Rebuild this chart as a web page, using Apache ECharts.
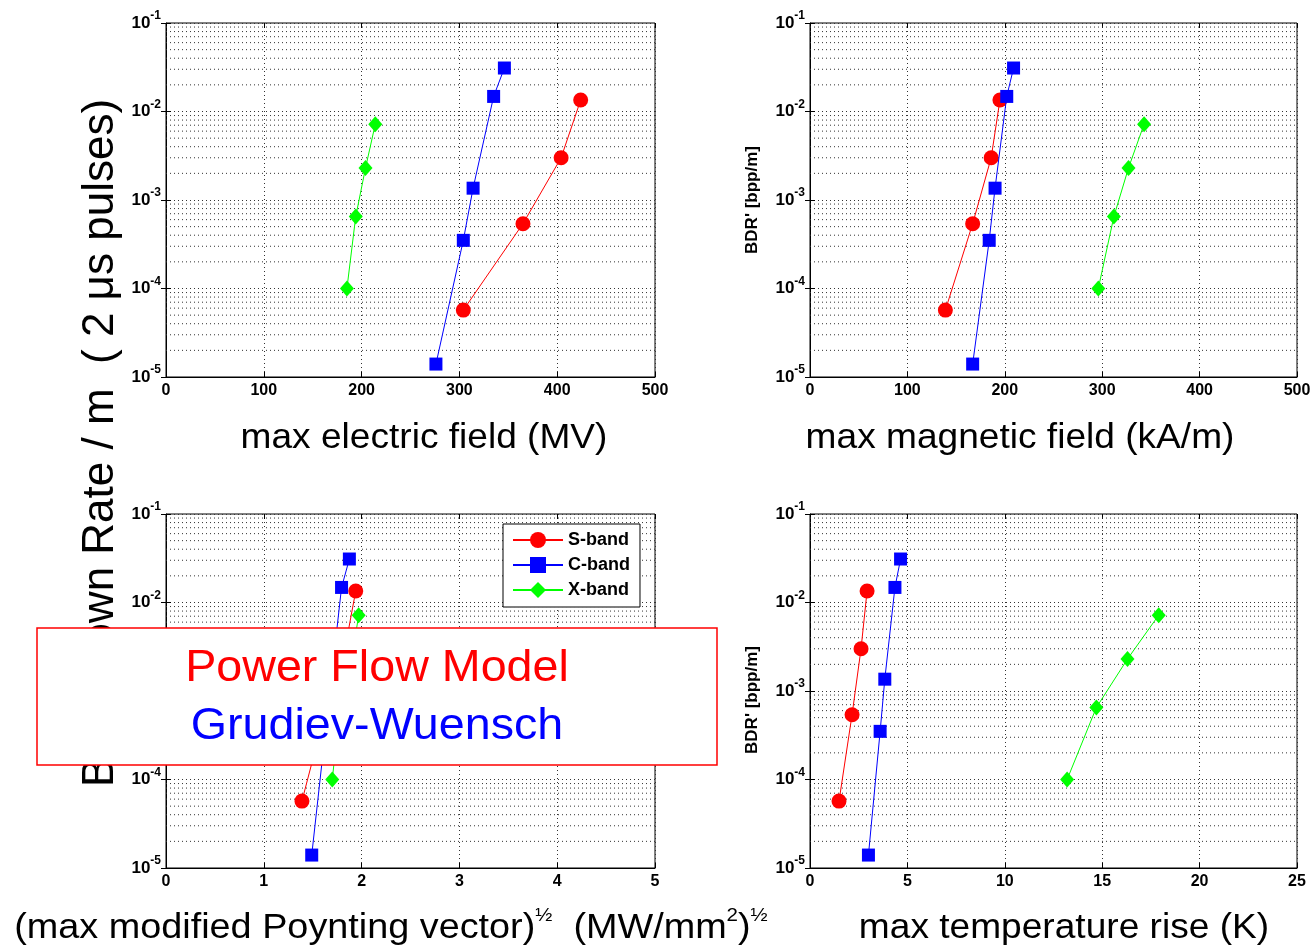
<!DOCTYPE html>
<html>
<head>
<meta charset="utf-8">
<script src="https://cdn.jsdelivr.net/npm/echarts@6/dist/echarts.min.js"></script>
<style>
  html, body { margin: 0; padding: 0; background: #fff; }
  #main { width: 1314px; height: 950px; }
</style>
</head>
<body>
<div id="main"></div>
<script>
// breakdown rate per metre, same for every panel
var sBandBdr = [5.7e-5, 5.4e-4, 3.0e-3, 1.35e-2]
var cBandBdr = [1.4e-5, 3.5e-4, 1.36e-3, 1.48e-2, 3.1e-2]
var xBandBdr = [1.0e-4, 6.5e-4, 2.3e-3, 7.2e-3]

// max electric field (MV)
var sBandE = [304, 365, 404, 424]
var cBandE = [276, 304, 314, 335, 346]
var xBandE = [185, 194, 204, 214]

// max magnetic field (kA/m)
var sBandH = [139, 167, 186, 195]
var cBandH = [167, 184, 190, 202, 209]
var xBandH = [296, 312, 327, 343]

// sqrt of max modified Poynting vector
var sBandSc = [1.39, 1.62, 1.83, 1.94]
var cBandSc = [1.49, 1.63, 1.69, 1.795, 1.875]
var xBandSc = [1.70, 1.78, 1.90, 1.97]

// max temperature rise (K)
var sBandT = [1.49, 2.16, 2.62, 2.93]
var cBandT = [3.0, 3.6, 3.84, 4.36, 4.65]
var xBandT = [13.2, 14.7, 16.3, 17.9]

var xMaxes = [500, 500, 5, 25]
var xSteps = [100, 100, 1, 5]
var decades = [1e-5, 1e-4, 1e-3, 1e-2]
var minorSteps = [2, 3, 4, 5, 6, 7, 8, 9]

var chart = echarts.init(document.getElementById('main'))

var grids = [
  { left: 166, right: 659, top: 23, height: 354 },
  { left: 810, right: 17, top: 23, height: 354 },
  { left: 166, right: 659, top: 514, height: 354 },
  { left: 810, right: 17, top: 514, height: 354 }
]

var dotted = { color: '#333', width: 1, type: [1, 3] }
var font = 'Liberation Sans'

function pairs (xs, ys) {
  return xs.map(function (x, i) { return [x, ys[i]] })
}

var xAxes = []
var yAxes = []
grids.forEach(function (g, i) {
  xAxes.push({
    type: 'value', gridIndex: i, min: 0, max: xMaxes[i], interval: xSteps[i],
    axisLine: { lineStyle: { color: '#000' } },
    axisTick: { inside: true, length: 5, lineStyle: { color: '#000' } },
    axisLabel: { color: '#000', fontWeight: 'bold', fontSize: 16, fontFamily: font, margin: 6 },
    splitLine: { show: true, lineStyle: dotted }
  })
  yAxes.push({
    type: 'log', logBase: 10, gridIndex: i, min: 1e-5, max: 1e-1,
    axisLine: { lineStyle: { color: '#000' } },
    axisTick: { inside: true, length: 5, lineStyle: { color: '#000' } },
    axisLabel: {
      color: '#000', margin: 5, fontFamily: font,
      formatter: function (v) {
        var e = Math.round(Math.log10(v))
        return '{b|10}{s|' + e + '}'
      },
      rich: {
        b: { fontSize: 17, fontWeight: 'bold', lineHeight: 26, fontFamily: font },
        s: { fontSize: 12, fontWeight: 'bold', lineHeight: 11, verticalAlign: 'top', fontFamily: font }
      }
    },
    splitLine: { show: true, lineStyle: dotted }
  })
})
// mirror axes on top / right for the inside ticks of the box
grids.forEach(function (g, i) {
  xAxes.push({
    type: 'value', gridIndex: i, position: 'top', min: 0, max: xMaxes[i], interval: xSteps[i],
    axisLine: { show: false }, axisLabel: { show: false }, splitLine: { show: false },
    axisTick: { inside: true, length: 5, lineStyle: { color: '#000' } }
  })
  yAxes.push({
    type: 'log', logBase: 10, gridIndex: i, position: 'right', min: 1e-5, max: 1e-1,
    axisLine: { show: false }, axisLabel: { show: false }, splitLine: { show: false },
    axisTick: { inside: true, length: 5, lineStyle: { color: '#000' } }
  })
})

var panels = [
  [sBandE, cBandE, xBandE],
  [sBandH, cBandH, xBandH],
  [sBandSc, cBandSc, xBandSc],
  [sBandT, cBandT, xBandT]
]

var series = []

// dotted minor grid lines at 2..9 x 10^k
grids.forEach(function (g, i) {
  decades.forEach(function (d) {
    minorSteps.forEach(function (m) {
      var v = d * m
      series.push({
        type: 'line', xAxisIndex: i, yAxisIndex: i, silent: true,
        data: [[0, v], [xMaxes[i], v]], symbol: 'none',
        lineStyle: dotted, z: 1
      })
    })
  })
})

panels.forEach(function (p, i) {
  series.push({
    name: 'S-band', type: 'line', xAxisIndex: i, yAxisIndex: i,
    data: pairs(p[0], sBandBdr), symbol: 'circle', symbolSize: 15,
    itemStyle: { color: '#ff0000' }, lineStyle: { color: '#ff0000', width: 1 }, z: 3
  })
  series.push({
    name: 'C-band', type: 'line', xAxisIndex: i, yAxisIndex: i,
    data: pairs(p[1], cBandBdr), symbol: 'rect', symbolSize: 13,
    itemStyle: { color: '#0000ff' }, lineStyle: { color: '#0000ff', width: 1 }, z: 4
  })
  series.push({
    name: 'X-band', type: 'line', xAxisIndex: i, yAxisIndex: i,
    data: pairs(p[2], xBandBdr), symbol: 'diamond', symbolSize: [14, 16],
    itemStyle: { color: '#00ff00' }, lineStyle: { color: '#00ff00', width: 1 }, z: 5
  })
})

var hStretch = 1.06

chart.setOption({
  backgroundColor: '#fff',
  animation: false,
  grid: grids.map(function (g) {
    return Object.assign({ show: true, borderColor: '#000', borderWidth: 1, backgroundColor: 'transparent' }, g)
  }),
  xAxis: xAxes,
  yAxis: yAxes,
  legend: {
    data: ['S-band', 'C-band', 'X-band'],
    orient: 'vertical',
    left: 503, top: 524,
    itemWidth: 50, itemHeight: 20, itemGap: 7,
    padding: [7, 10, 8, 9],
    backgroundColor: '#fff', borderColor: '#000', borderWidth: 1,
    textStyle: { color: '#000', fontWeight: 'bold', fontSize: 18, fontFamily: font },
    z: 20
  },
  series: series,
  graphic: [
    // shared y label on the left, partly hidden by the box
    {
      type: 'text', x: 101, y: 443, rotation: Math.PI / 2, z: 10,
      style: {
        text: 'Breakdown Rate / m  ( 2 \u03bcs pulses)',
        fill: '#000', font: '44px "Liberation Sans"',
        textAlign: 'center', textVerticalAlign: 'middle'
      }
    },
    {
      type: 'text', x: 752, y: 200, rotation: Math.PI / 2, z: 10,
      style: { text: 'BDR\' [bpp/m]', fill: '#000', font: 'bold 17px "Liberation Sans"', textAlign: 'center', textVerticalAlign: 'middle' }
    },
    {
      type: 'text', x: 752, y: 700, rotation: Math.PI / 2, z: 10,
      style: { text: 'BDR\' [bpp/m]', fill: '#000', font: 'bold 17px "Liberation Sans"', textAlign: 'center', textVerticalAlign: 'middle' }
    },
    {
      type: 'text', x: 424, y: 438, scaleX: hStretch, z: 10,
      style: { text: 'max electric field (MV)', fill: '#000', font: '35px "Liberation Sans"', textAlign: 'center', textVerticalAlign: 'middle' }
    },
    {
      type: 'text', x: 1020, y: 438, scaleX: hStretch, z: 10,
      style: { text: 'max magnetic field (kA/m)', fill: '#000', font: '35px "Liberation Sans"', textAlign: 'center', textVerticalAlign: 'middle' }
    },
    {
      type: 'text', x: 1064, y: 928, scaleX: hStretch, z: 10,
      style: { text: 'max temperature rise (K)', fill: '#000', font: '35px "Liberation Sans"', textAlign: 'center', textVerticalAlign: 'middle' }
    },
    {
      type: 'text', x: 391, y: 928, scaleX: 1.08, z: 10,
      style: {
        text: '{b|(max modified Poynting vector)}{s|\u00bd}{b|  (MW/mm}{s|2}{b|)}{s|\u00bd}',
        textAlign: 'center', textVerticalAlign: 'middle',
        rich: {
          b: { fill: '#000', fontSize: 35, lineHeight: 44, fontFamily: font },
          s: { fill: '#000', fontSize: 19, lineHeight: 26, verticalAlign: 'top', fontFamily: font }
        }
      }
    },
    // overlay box
    {
      type: 'rect', z: 50,
      shape: { x: 37, y: 628, width: 680, height: 137 },
      style: { fill: '#fff', stroke: '#ff0000', lineWidth: 1.5 }
    },
    {
      type: 'text', x: 377, y: 669, scaleX: hStretch, z: 51,
      style: { text: 'Power Flow Model', fill: '#ff0000', font: '44px "Liberation Sans"', textAlign: 'center', textVerticalAlign: 'middle' }
    },
    {
      type: 'text', x: 377, y: 727, scaleX: hStretch, z: 51,
      style: { text: 'Grudiev-Wuensch', fill: '#0000ff', font: '44px "Liberation Sans"', textAlign: 'center', textVerticalAlign: 'middle' }
    }
  ]
})
</script>
</body>
</html>
